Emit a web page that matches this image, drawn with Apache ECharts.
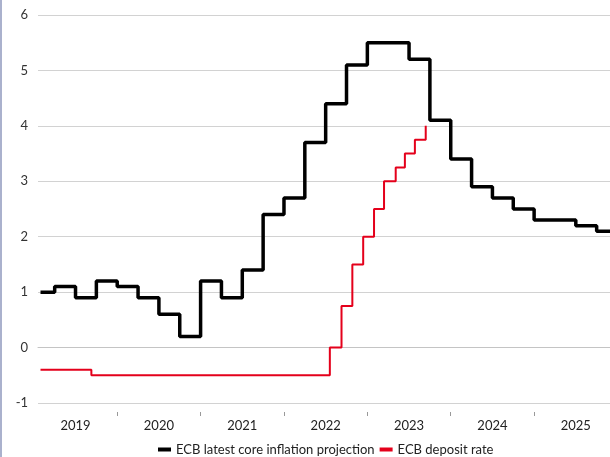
<!DOCTYPE html>
<html>
<head>
<meta charset="utf-8">
<script src="https://cdn.jsdelivr.net/npm/echarts@6/dist/echarts.min.js"></script>
<style>
  html, body { margin: 0; padding: 0; background: #fff; }
  #chart { width: 610px; height: 457px; }
</style>
</head>
<body>
<div id="chart"></div>
<script>
// core inflation projection: date (decimal year) the projection starts, value %
const coreDates = [2019.08, 2019.25, 2019.5, 2019.75, 2020.0, 2020.25, 2020.5, 2020.75,
  2021.0, 2021.25, 2021.5, 2021.75, 2022.0, 2022.25, 2022.5, 2022.75,
  2023.0, 2023.5, 2023.75, 2024.0, 2024.25, 2024.5, 2024.75, 2025.0,
  2025.5, 2025.75, 2026.0]
const coreValues = [1.0, 1.1, 0.9, 1.2, 1.1, 0.9, 0.6, 0.2,
  1.2, 0.9, 1.4, 2.4, 2.7, 3.7, 4.4, 5.1,
  5.5, 5.2, 4.1, 3.4, 2.9, 2.7, 2.5, 2.3,
  2.2, 2.1, 2.1]

// deposit rate changes
const rateDates = [2019.08, 2019.69, 2022.55, 2022.69, 2022.82, 2022.95, 2023.08,
  2023.2, 2023.34, 2023.45, 2023.57, 2023.7]
const rateValues = [-0.4, -0.5, 0, 0.75, 1.5, 2.0, 2.5, 3.0, 3.25, 3.5, 3.75, 4.0]

const years = [2019, 2020, 2021, 2022, 2023, 2024, 2025]
const yearTicks = [2020, 2021, 2022, 2023, 2024, 2025]

const zip = (xs, ys) => xs.map((x, i) => [x, ys[i]])

const font = 'Lato'
const chart = echarts.init(document.getElementById('chart'))

const option = {
  animation: false,
  backgroundColor: '#fff',
  grid: { left: 38, right: 0, top: 15, bottom: 54 },
  graphic: [{
    type: 'rect',
    shape: { x: 0, y: 0, width: 2, height: 457 },
    style: { fill: '#aab1cd' }
  }],
  legend: {
    left: 158,
    bottom: 1,
    padding: 0,
    itemWidth: 13,
    itemHeight: 4,
    itemGap: 5,
    icon: 'rect',
    textStyle: { fontFamily: font, fontSize: 13, color: '#222' },
    data: ['ECB latest core inflation projection', 'ECB deposit rate']
  },
  xAxis: [{
    type: 'value',
    min: 2019.05,
    max: 2025.91,
    axisLine: { show: true, lineStyle: { color: '#c4c4c4' } },
    axisTick: { show: false },
    splitLine: { show: false },
    axisLabel: {
      customValues: years.map(y => y + 0.5),
      formatter: v => String(Math.floor(v)),
      margin: 16,
      fontFamily: font,
      fontSize: 13,
      color: '#222'
    }
  }, {
    type: 'value',
    min: 2019.05,
    max: 2025.91,
    position: 'bottom',
    offset: 9,
    axisLine: { show: false },
    splitLine: { show: false },
    axisLabel: { show: false },
    axisTick: {
      show: true,
      customValues: yearTicks,
      length: 4,
      lineStyle: { color: '#999' }
    }
  }],
  yAxis: {
    type: 'value',
    min: -1,
    max: 6,
    interval: 1,
    axisLine: { show: false },
    axisTick: { show: false },
    splitLine: { lineStyle: { color: '#d2d2d2' } },
    axisLabel: { margin: 10, fontFamily: font, fontSize: 13, color: '#333' }
  },
  series: [{
    name: 'ECB latest core inflation projection',
    type: 'line',
    step: 'end',
    symbol: 'none',
    color: '#000',
    lineStyle: { width: 3.5, color: '#000' },
    data: zip(coreDates, coreValues)
  }, {
    name: 'ECB deposit rate',
    type: 'line',
    step: 'end',
    symbol: 'none',
    color: '#e4001b',
    lineStyle: { width: 2, color: '#e4001b' },
    data: zip(rateDates, rateValues)
  }]
}

chart.setOption(option)
</script>
</body>
</html>
